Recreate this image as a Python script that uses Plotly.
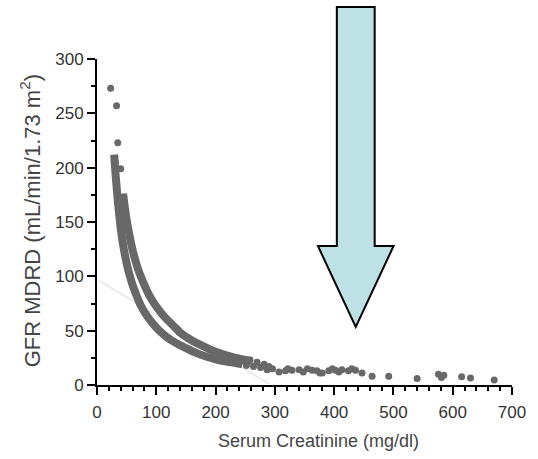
import plotly.graph_objects as go

# Serum creatinine (x) against MDRD GFR (y)

# Lower band of the scatter
lower_x = [29, 31, 33, 35, 38, 41, 45, 50, 55, 60, 67, 75, 85, 95, 105, 118, 132, 148, 165, 185, 205, 225, 245]
lower_y = [212, 196, 183, 170, 154, 140, 126, 112, 101, 92, 82, 72, 63, 56, 50, 44, 39, 34.5, 30, 26, 23, 21, 19]

# Upper band of the scatter
upper_x = [44, 47, 50, 54, 58, 63, 69, 76, 84, 93, 103, 115, 128, 143, 160, 178, 198, 220, 242, 262]
upper_y = [176, 163, 152, 140, 129, 118, 107, 97, 87, 78, 70, 62, 55, 47, 41, 36, 31, 27, 24, 22]

# Isolated points at high GFR
top_x = [23, 33, 35, 31, 40, 44, 47]
top_y = [273, 257, 223, 205, 199, 173, 161]

# Sparse points at high creatinine
tail_x = [230, 238, 246, 252, 258, 264, 270, 276, 282, 287, 290, 296,
          307, 318, 322, 329, 341, 348, 355, 363, 371, 376, 380, 391, 397,
          402, 408, 413, 424, 430, 436, 447, 464, 492, 540, 576, 581, 585,
          615, 630, 670]
tail_y = [24, 20, 22, 18, 23, 17, 21, 16, 19, 14, 17, 15,
          12, 13, 15, 13.5, 14, 12, 15, 13.5, 13, 11, 11, 13, 15,
          13.5, 12, 14, 13, 15, 13.5, 11, 8, 8, 6, 10, 7, 9,
          7.5, 6.5, 4.5]

# Faint trend line
trend_x = [4, 290]
trend_y = [96, 1]

x_ticks = [0, 100, 200, 300, 400, 500, 600, 700]
y_ticks = [0, 50, 100, 150, 200, 250, 300]

GREY = "#686868"
FONT = "Liberation Sans, Arial, sans-serif"

fig = go.Figure()

fig.add_trace(go.Scatter(x=trend_x, y=trend_y, mode="lines",
                         line=dict(color="#ececec", width=2), hoverinfo="skip"))
for bx, by in [(lower_x, lower_y), (upper_x, upper_y)]:
    fig.add_trace(go.Scatter(x=bx, y=by, mode="lines",
                             line=dict(color=GREY, width=8, shape="spline")))
fig.add_trace(go.Scatter(x=top_x, y=top_y, mode="markers",
                         marker=dict(color=GREY, size=7)))
fig.add_trace(go.Scatter(x=tail_x, y=tail_y, mode="markers",
                         marker=dict(color=GREY, size=7)))

# Down arrow drawn in paper coordinates
L, R, T, B = 97, 24, 59, 74
W, H = 538 - L - R, 459 - T - B


def px(x, y):
    return (x - L) / W, (459 - B - y) / H


arrow_pts = [(338, 7), (376, 7), (376, 246), (395, 246), (357, 327), (319, 246), (338, 246)]
path = "M " + " L ".join("%.4f,%.4f" % px(x, y) for x, y in arrow_pts) + " Z"
fig.add_shape(type="path", path=path, xref="paper", yref="paper",
              fillcolor="#bde1e4", line=dict(color="black", width=2), layer="above")

fig.add_annotation(text="GFR MDRD (mL/min/1.73 m<sup>2</sup>)", textangle=-90,
                   xref="paper", yref="paper", x=px(30, 0)[0], y=px(0, 221)[1],
                   showarrow=False, xanchor="center", yanchor="middle",
                   font=dict(family=FONT, size=22, color="#444"))
fig.add_annotation(text="Serum Creatinine (mg/dl)",
                   xref="paper", yref="paper", x=px(320, 0)[0], y=px(0, 441)[1],
                   showarrow=False, xanchor="center", yanchor="middle",
                   font=dict(family=FONT, size=18, color="#444"))

fig.update_layout(
    width=538, height=459,
    margin=dict(l=L, r=R, t=T, b=B),
    paper_bgcolor="white", plot_bgcolor="white",
    showlegend=False,
    font=dict(family=FONT, size=17, color="#333"),
    xaxis=dict(range=[0, 700], tickvals=x_ticks, showgrid=False, zeroline=False,
               showline=True, linecolor="black", linewidth=2,
               ticks="outside", ticklen=8, tickwidth=2, tickcolor="black",
               ticklabelstandoff=3,
               minor=dict(dtick=20, ticks="outside", ticklen=4, tickwidth=2, tickcolor="black"),
               tickfont=dict(size=17, color="#333")),
    yaxis=dict(range=[0, 300], tickvals=y_ticks, showgrid=False, zeroline=False,
               showline=True, linecolor="black", linewidth=2,
               ticks="outside", ticklen=8, tickwidth=2, tickcolor="black",
               minor=dict(dtick=25, ticks="outside", ticklen=4, tickwidth=2, tickcolor="black"),
               tickfont=dict(size=17, color="#333")),
)

fig.write_html("out.html")
